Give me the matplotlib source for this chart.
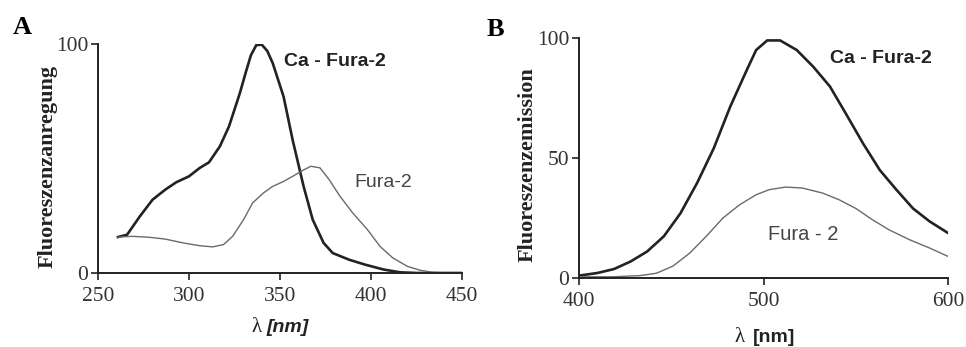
import matplotlib
matplotlib.use("Agg")
import matplotlib.pyplot as plt

# --- panel A: excitation spectra ---
exc_nm_ca = [261, 266, 273, 280, 287, 293, 300, 306, 311, 317, 322, 328, 331, 334, 337,
             340, 343, 346, 352, 357, 363, 368, 374, 379, 388, 397, 407, 416, 425, 434, 450]
exc_ca = [15.7, 16.7, 24.7, 32, 36.4, 39.6, 42.2, 45.9, 48.3, 55.3, 64, 78.6, 87, 95, 99.5,
          99.7, 97, 91.7, 77, 58, 37.8, 23.3, 13.1, 8.7, 5.8, 3.6, 1.5, 0.3, 0, 0, 0]
exc_nm_free = [261, 269, 278, 287, 297, 306, 313, 319, 324, 330, 335, 341, 346, 352,
               357, 363, 367, 372, 377, 383, 390, 398, 405, 412, 420, 427, 434, 441]
exc_free = [15.7, 16, 15.6, 14.8, 13.1, 11.9, 11.4, 12.4, 16, 23.3, 30.6, 35, 37.8, 40,
            42.2, 45, 46.6, 45.9, 40.8, 33.5, 26.2, 19, 11.6, 6.6, 2.9, 1.2, 0.3, 0]

# --- panel B: emission spectra ---
em_nm_ca = [400, 410, 419, 428, 437, 446, 455, 464, 473, 482, 491, 496, 502, 509,
            518, 527, 536, 545, 554, 563, 572, 581, 590, 600]
em_ca = [1, 2.1, 3.75, 6.9, 11.1, 17.4, 27, 39.6, 54, 71.5, 86.8, 95, 99, 99,
         95, 88, 79.8, 68, 56, 45, 36.8, 29, 23.6, 18.75]
em_nm_free = [400, 418, 433, 442, 451, 460, 469, 478, 487, 496, 503, 512, 521, 532,
              541, 550, 559, 568, 579, 590, 600]
em_free = [0.5, 0.5, 1, 2, 5, 10.4, 17.4, 25, 30.5, 34.7, 36.8, 37.9, 37.5, 35.4,
           32.6, 29, 24.3, 20.1, 16, 12.5, 9]

W, H = 966, 347
fig = plt.figure(figsize=(W / 100, H / 100), dpi=100)

serif = "Liberation Serif"
sans = "Liberation Sans"
ink = "#222222"


def px(x, y):
    return x / W, 1 - y / H


def style_axes(ax, xlim, xticks, yticks):
    ax.set_xlim(*xlim)
    ax.set_ylim(0, 100)
    ax.set_xticks(xticks)
    ax.set_yticks(yticks)
    for s in ("top", "right"):
        ax.spines[s].set_visible(False)
    for s in ("left", "bottom"):
        ax.spines[s].set_color(ink)
        ax.spines[s].set_linewidth(1.4)
    ax.tick_params(direction="out", length=5, width=1.2, color=ink)
    ax.tick_params(axis="x", pad=5)
    ax.tick_params(axis="y", pad=2)
    for lab in ax.get_xticklabels() + ax.get_yticklabels():
        lab.set_fontfamily(serif)
        lab.set_fontsize(15.5)
        lab.set_color("#333333")


# panel A
axA = fig.add_axes([0.1014, 0.2133, 0.3768, 0.66])
axA.plot(exc_nm_ca, exc_ca, color=ink, lw=1.9)
axA.plot(exc_nm_free, exc_free, color="#6a6a6a", lw=1.0)
style_axes(axA, (250, 450), [250, 300, 350, 400, 450], [0, 100])
axA.text(352.5, 92.5, "Ca - Fura-2", family=sans, weight="bold", fontsize=14,
         color=ink, va="center")
axA.text(391, 39.3, "Fura-2", family=sans, fontsize=14, color="#444444", va="center")

# panel B
axB = fig.add_axes([0.5994, 0.1988, 0.382, 0.6916])
axB.plot(em_nm_ca, em_ca, color=ink, lw=1.9)
axB.plot(em_nm_free, em_free, color="#6a6a6a", lw=1.0)
style_axes(axB, (400, 600), [400, 500, 600], [0, 50, 100])
axB.text(536, 91.3, "Ca - Fura-2", family=sans, weight="bold", fontsize=14,
         color=ink, va="center")
axB.text(502.5, 18, "Fura - 2", family=sans, fontsize=14.5, color="#444444", va="center")

# y labels
fig.text(*px(48, 166), "Fluoreszenzanregung", rotation=90, family=serif,
         weight="bold", fontsize=16, ha="center", va="center", color=ink)
fig.text(*px(528, 165), "Fluoreszenzemission", rotation=90, family=serif,
         weight="bold", fontsize=16, ha="center", va="center", color=ink)

# x labels
fig.text(*px(257, 328), "λ", family=serif, fontsize=15, ha="center", va="center", color=ink)
fig.text(*px(267, 328), "[nm]", family=sans, weight="bold", style="italic",
         fontsize=14, ha="left", va="center", color=ink)
fig.text(*px(740, 338), "λ", family=serif, fontsize=15, ha="center", va="center", color=ink)
fig.text(*px(753, 338), "[nm]", family=sans, weight="bold",
         fontsize=14, ha="left", va="center", color=ink)

# panel letters
fig.text(*px(22, 28), "A", family=serif, weight="bold", fontsize=19,
         ha="center", va="center", color="black")
fig.text(*px(495, 30), "B", family=serif, weight="bold", fontsize=19,
         ha="center", va="center", color="black")

fig.savefig("out.png", dpi=100)
